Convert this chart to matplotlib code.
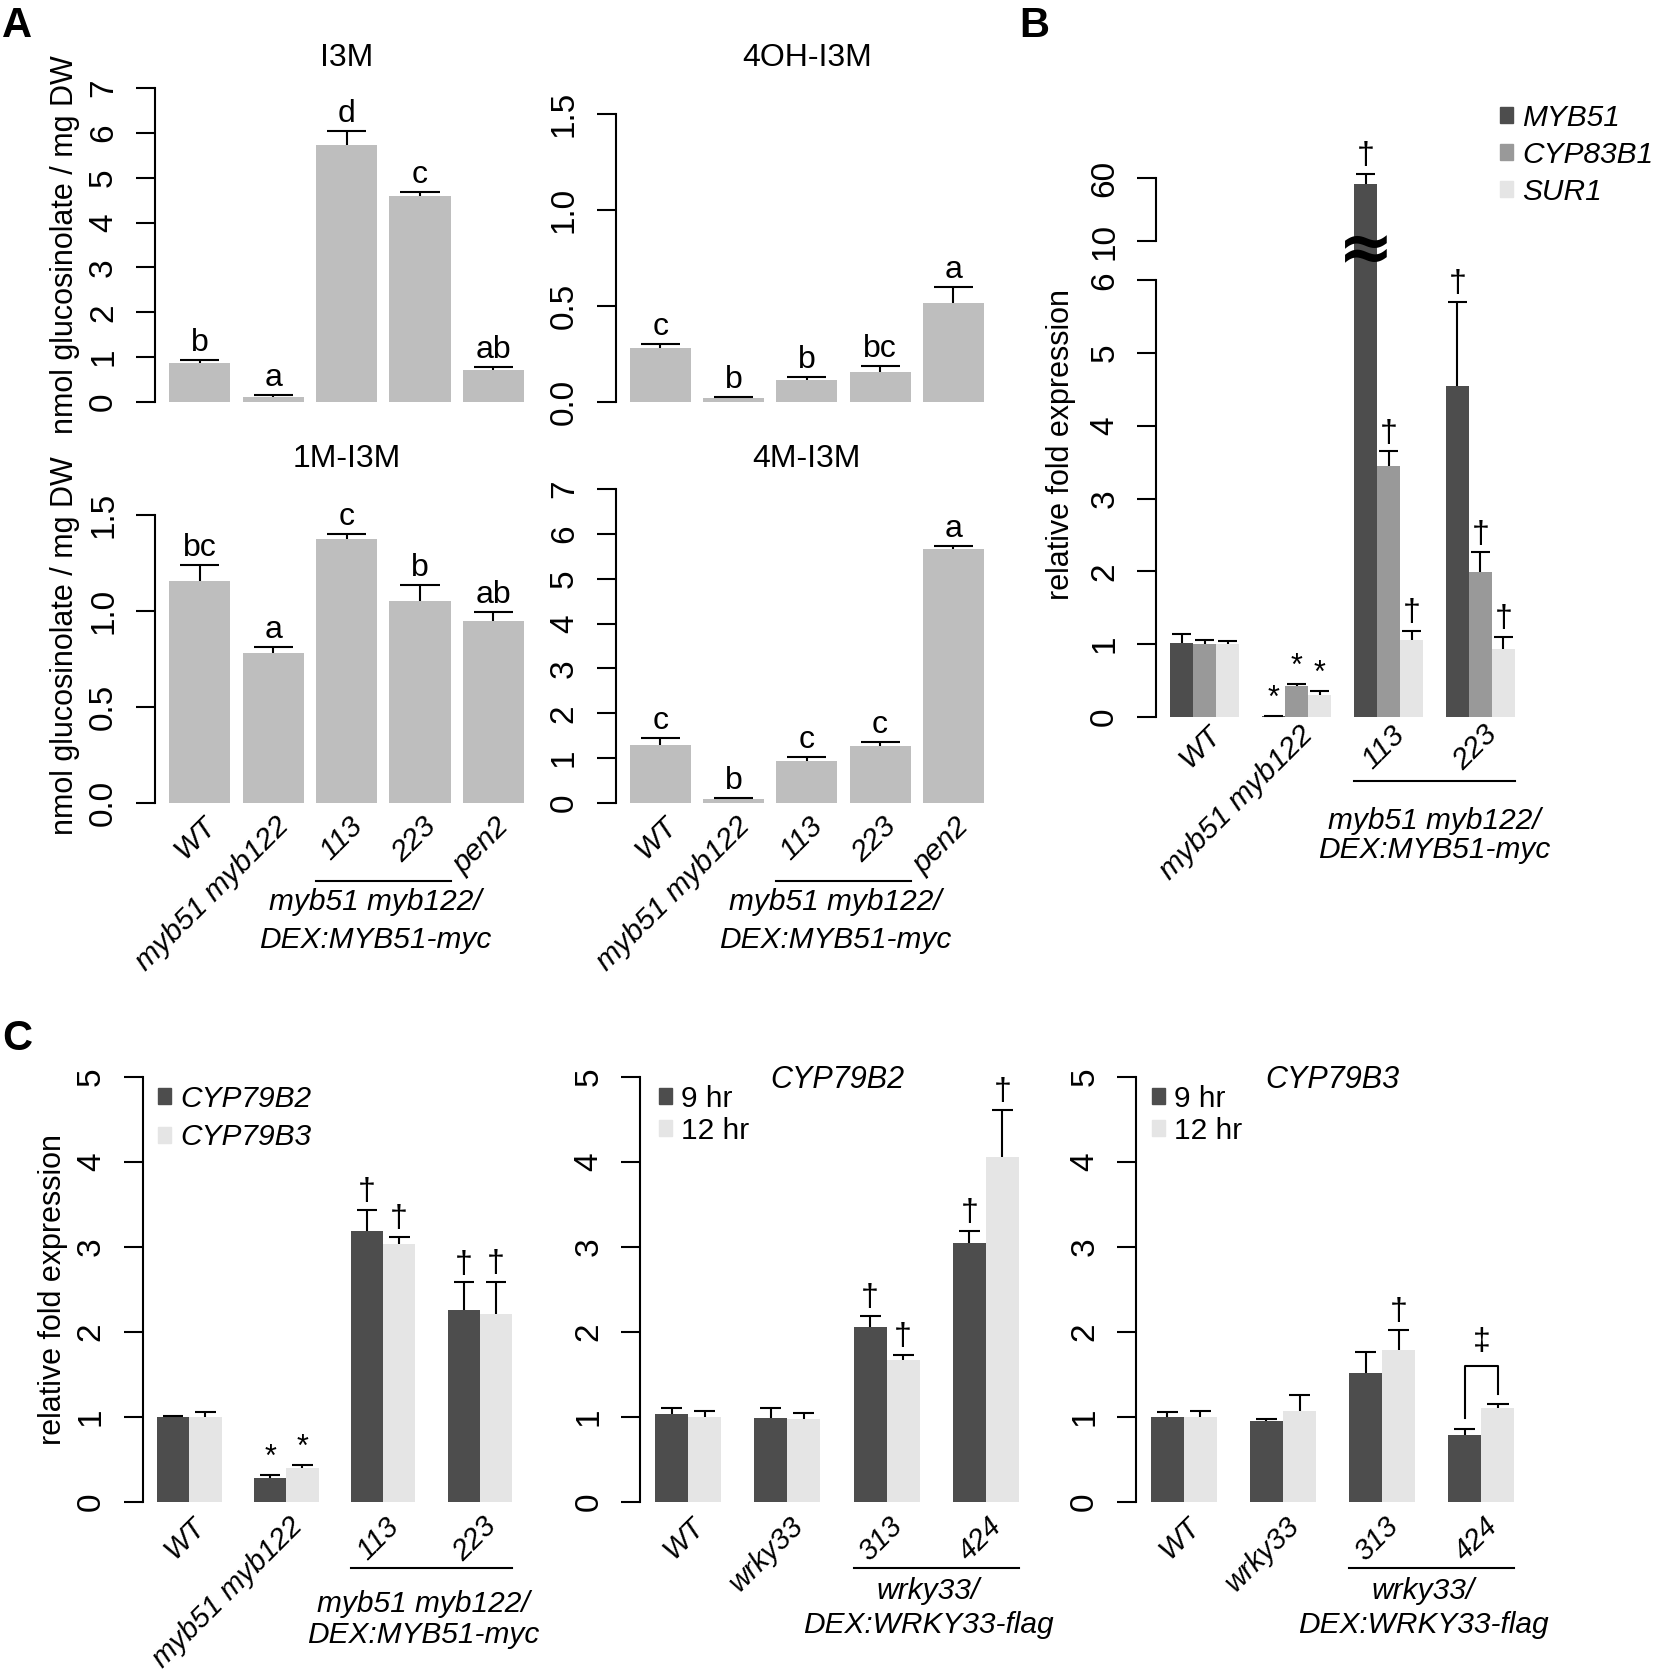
import numpy as np
import matplotlib
matplotlib.use("Agg")
import matplotlib.pyplot as plt
from matplotlib.patches import Patch

plt.rcParams['font.family'] = ['Liberation Sans', 'DejaVu Sans']
plt.rcParams['font.size'] = 21

# ---------------- data ----------------
# panel A: glucosinolates (mean, se, letters)
a_groups = ['WT', 'myb51 myb122', '113', '223', 'pen2']
i3m = [0.88, 0.11, 5.72, 4.59, 0.71]
i3m_se = [0.06, 0.04, 0.33, 0.10, 0.07]
i3m_sig = ['b', 'a', 'd', 'c', 'ab']
oh = [0.284, 0.019, 0.117, 0.157, 0.515]
oh_se = [0.016, 0.007, 0.013, 0.029, 0.082]
oh_sig = ['c', 'b', 'b', 'bc', 'a']
m1 = [1.154, 0.783, 1.375, 1.050, 0.949]
m1_se = [0.085, 0.031, 0.028, 0.083, 0.044]
m1_sig = ['bc', 'a', 'c', 'b', 'ab']
m4 = [1.30, 0.097, 0.945, 1.27, 5.67]
m4_se = [0.14, 0.023, 0.085, 0.10, 0.06]
m4_sig = ['c', 'b', 'c', 'c', 'a']

# panel B: expression, MYB51 / CYP83B1 / SUR1
b_groups = ['WT', 'myb51 myb122', '113', '223']
b_genes = ['MYB51', 'CYP83B1', 'SUR1']
myb51 = [1.02, 0.01, 55.2, 4.55]
myb51_se = [0.12, 0.01, 8.0, 1.15]
cyp83b1 = [1.0, 0.42, 3.45, 1.99]
cyp83b1_se = [0.06, 0.03, 0.20, 0.27]
sur1 = [1.0, 0.30, 1.06, 0.94]
sur1_se = [0.04, 0.06, 0.12, 0.16]
b_marks = [['', '*', '†', '†'], ['', '*', '†', '†'], ['', '*', '†', '†']]

# panel C, left: CYP79B2 / CYP79B3 in myb lines
c1_groups = ['WT', 'myb51 myb122', '113', '223']
c1_b2 = [0.993, 0.28, 3.18, 2.26]
c1_b2_se = [0.012, 0.03, 0.25, 0.32]
c1_b3 = [1.0, 0.40, 3.03, 2.21]
c1_b3_se = [0.056, 0.03, 0.09, 0.38]
c1_marks = [['', '*', '†', '†'], ['', '*', '†', '†']]

# panel C, middle / right: wrky33 lines, 9 hr / 12 hr
c_groups = ['WT', 'wrky33', '313', '424']
c2_9 = [1.027, 0.984, 2.06, 3.04]
c2_9_se = [0.08, 0.114, 0.13, 0.15]
c2_12 = [1.0, 0.969, 1.67, 4.055]
c2_12_se = [0.07, 0.078, 0.055, 0.555]
c2_marks = [['', '', '†', '†'], ['', '', '†', '†']]
c3_9 = [0.996, 0.949, 1.51, 0.788]
c3_9_se = [0.054, 0.027, 0.247, 0.062]
c3_12 = [1.0, 1.07, 1.79, 1.106]
c3_12_se = [0.063, 0.18, 0.23, 0.04]
c3_marks = [['', '', '', ''], ['', '', '†', '']]
c3_bracket = [0.98, 1.60, 1.27]   # left leg end, top, right leg end (group 424)

dark, mid, light, grey = '#4d4d4d', '#999999', '#e5e5e5', '#bebebe'

# ---------------- layout ----------------
W, H = 1654, 1675
fig = plt.figure(figsize=(W / 100, H / 100), dpi=100)


def box(x0, x1, y0, y1):
    return [x0 / W, 1 - y1 / H, (x1 - x0) / W, (y1 - y0) / H]


def style(ax, xlim, ylim, ticks, labels):
    for s in ['top', 'right', 'bottom']:
        ax.spines[s].set_visible(False)
    ax.spines['left'].set_linewidth(1.5)
    ax.set_xlim(xlim)
    ax.set_ylim(ylim)
    ax.spines['left'].set_bounds(ticks[0], ticks[-1])
    ax.set_xticks([])
    ax.set_yticks(ticks)
    ax.set_yticklabels(labels, rotation=90, va='center')
    ax.tick_params(axis='y', length=13.4, width=1.5, pad=12.5, labelsize=24)


def bars(ax, x, vals, se, color, half):
    vals = np.array(vals)
    tops = vals + np.array(se)
    ax.bar(x, vals, width=1, color=color, edgecolor='none')
    ax.vlines(x, vals, tops, color='k', lw=1.5)
    ax.hlines(tops, x - half, x + half, color='k', lw=1.5)
    return tops


def marks(ax, x, tops, labels, va, dy, size):
    for xi, t, s in zip(x, tops, labels):
        if s:
            ax.annotate(s, (xi, t), xytext=(0, dy), textcoords='offset points',
                        ha='center', va=va, fontsize=size)


def xlabels(ax, x, labels, dy=-4.5, size=21.5):
    for xi, s in zip(x, labels):
        ax.annotate(s, (xi, 0), xycoords=('data', 'axes fraction'),
                    xytext=(8.5, dy), textcoords='offset points',
                    rotation=45, rotation_mode='anchor', ha='right', va='center',
                    style='italic', fontsize=size, annotation_clip=False)


def group(ax, x0, x1, fline, lines, fys, dx=-6):
    ax.plot([x0, x1], [fline, fline], color='k', lw=1.5,
            transform=ax.get_xaxis_transform(), clip_on=False)
    for s, fy in zip(lines, fys):
        ax.annotate(s, ((x0 + x1) / 2, fy), xycoords=('data', 'axes fraction'),
                    xytext=(dx, 0), textcoords='offset points', ha='center',
                    va='center', style='italic', fontsize=21.5, annotation_clip=False)


def legend(ax, handles, x, y, italic, spacing):
    ax.legend(handles=handles, loc='upper left', bbox_to_anchor=(x / W, 1 - y / H),
              bbox_transform=fig.transFigure, frameon=False, handlelength=0.45,
              handleheight=0.45, handletextpad=0.3, labelspacing=spacing,
              borderpad=0, borderaxespad=0,
              prop={'style': 'italic' if italic else 'normal', 'size': 21.5})


# ---------------- panel A ----------------
ax_x = 0.7 + 1.2 * np.arange(len(a_groups))
a_xlim = (-0.032, 6.232)
int_ticks = list(range(8))
half_ticks = [0.0, 0.5, 1.0, 1.5]
a_specs = [
    ('I3M', i3m, i3m_se, i3m_sig, box(155, 538.2, 75.4, 414.6), (-0.28, 7.28), int_ticks, [str(t) for t in int_ticks], False),
    ('4OH-I3M', oh, oh_se, oh_sig, box(615.8, 998, 75.4, 414.6), (-0.0654, 1.701), half_ticks, ['%.1f' % t for t in half_ticks], False),
    ('1M-I3M', m1, m1_se, m1_sig, box(155, 538.2, 476.4, 815.6), (-0.0654, 1.701), half_ticks, ['%.1f' % t for t in half_ticks], True),
    ('4M-I3M', m4, m4_se, m4_sig, box(615.8, 998, 476.4, 815.6), (-0.28, 7.28), int_ticks, [str(t) for t in int_ticks], True),
]
for k, (title, vals, se, sig, rect, ylim, ticks, tl, bottom) in enumerate(a_specs):
    ax = fig.add_axes(rect)
    style(ax, a_xlim, ylim, ticks, tl)
    tops = bars(ax, ax_x, vals, se, grey, 0.32)
    marks(ax, ax_x, tops, sig, 'baseline', 6.5, 23)
    ax.set_title(title, pad=6.5, fontsize=23)
    if k % 2 == 0:
        ax.text(-0.236, 0.5, 'nmol glucosinolate / mg DW', rotation=90, ha='center',
                va='center', transform=ax.transAxes, fontsize=22)
    if bottom:
        xlabels(ax, ax_x, a_groups)
        group(ax, ax_x[2] - 0.5, ax_x[3] + 0.5, -0.193,
              ['myb51 myb122/', 'DEX:MYB51-myc'], [-0.255, -0.367])

# ---------------- panel B ----------------
bp_y = [-10, 6, 10, 1000]
bp_t = [-10, 6, 6.536, 6.536 + 990 * 0.01736]
axb = fig.add_axes(box(1156.2, 1528.8, 155, 734.5))
axb.set_yscale('function', functions=(lambda y: np.interp(y, bp_y, bp_t),
                                      lambda t: np.interp(t, bp_t, bp_y)))
b_ticks = [0, 1, 2, 3, 4, 5, 6, 10, 60]
style(axb, (0.4, 16.6), (-0.24, 78.2), b_ticks, [str(t) for t in b_ticks])
axb.spines['left'].set_bounds(0, 6)
axb.plot([0, 0], [10, 60], color='k', lw=1.5, transform=axb.get_yaxis_transform(),
         clip_on=False)
b_centers = 2.5 + 4 * np.arange(len(b_groups))
for i, (vals, se, col) in enumerate([(myb51, myb51_se, dark), (cyp83b1, cyp83b1_se, mid),
                                      (sur1, sur1_se, light)]):
    xb = b_centers - 1 + i
    tops = bars(axb, xb, vals, se, col, 0.43)
    for xi, t, s in zip(xb, tops, b_marks[i]):
        if s == '*':
            axb.annotate(s, (xi, t), xytext=(0, 6.5), textcoords='offset points',
                         ha='center', va='baseline', fontsize=22)
        elif s:
            axb.annotate(s, (xi, t), xytext=(0, 2), textcoords='offset points',
                         ha='center', va='bottom', fontsize=23)
axb.text(b_centers[2] - 1, 9, '≈', ha='center', va='center', fontsize=48,
         fontweight='bold', family='DejaVu Sans')
axb.text(-0.255, 0.5, 'relative fold expression', rotation=90, ha='center', va='center',
         transform=axb.transAxes, fontsize=22)
xlabels(axb, b_centers, b_groups, dy=3)
group(axb, b_centers[2] - 1.5, b_centers[3] + 1.5, -0.0802,
      ['myb51 myb122/', 'DEX:MYB51-myc'], [-0.150, -0.200], dx=0)
legend(axb, [Patch(color=c, label=g) for c, g in zip([dark, mid, light], b_genes)],
       1500, 104, True, 0.3)

# ---------------- panel C ----------------
c_ticks = [0, 1, 2, 3, 4, 5]
c_centers = 2 + 3 * np.arange(4)
c_specs = [
    (box(142.8, 526.5, 1059.7, 1518.7), c1_groups, (c1_b2, c1_b2_se), (c1_b3, c1_b3_se), c1_marks,
     ['CYP79B2', 'CYP79B3'], True, None, ['myb51 myb122/', 'DEX:MYB51-myc'], [-0.186, -0.253], 158, 1085, 0.35),
    (box(640.4, 1033.6, 1059.7, 1518.7), c_groups, (c2_9, c2_9_se), (c2_12, c2_12_se), c2_marks,
     ['9 hr', '12 hr'], False, 'CYP79B2', ['wrky33/', 'DEX:WRKY33-flag'], [-0.1586, -0.2316], 659, 1085, 0.12),
    (box(1136.2, 1529, 1059.7, 1518.7), c_groups, (c3_9, c3_9_se), (c3_12, c3_12_se), c3_marks,
     ['9 hr', '12 hr'], False, 'CYP79B3', ['wrky33/', 'DEX:WRKY33-flag'], [-0.1586, -0.2316], 1152, 1085, 0.12),
]
for k, (rect, groups, s1, s2, mk, leg, leg_it, title, glines, gys, lx, ly, lsp) in enumerate(c_specs):
    ax = fig.add_axes(rect)
    style(ax, (0.56, 12.44), (-0.2, 5.2), c_ticks, [str(t) for t in c_ticks])
    for i, ((vals, se), col) in enumerate(zip([s1, s2], [dark, light])):
        xb = c_centers - 0.5 + i
        tops = bars(ax, xb, vals, se, col, 0.32)
        for xi, t, s in zip(xb, tops, mk[i]):
            if s == '*':
                ax.annotate(s, (xi, t), xytext=(0, 6.5), textcoords='offset points',
                            ha='center', va='baseline', fontsize=22)
            elif s:
                ax.annotate(s, (xi, t), xytext=(0, 2), textcoords='offset points',
                            ha='center', va='bottom', fontsize=23)
    if title:
        ax.text(6.5, 4.87, title, ha='center', va='baseline', style='italic', fontsize=22)
    if k == 0:
        ax.text(-0.234, 0.5, 'relative fold expression', rotation=90, ha='center',
                va='center', transform=ax.transAxes, fontsize=22)
    if k == 2:
        xl, xr = c_centers[3] - 0.5, c_centers[3] + 0.5
        lo, top, ro = c3_bracket
        ax.plot([xl, xl, xr, xr], [lo, top, top, ro], color='k', lw=1.5)
        ax.annotate('‡', ((xl + xr) / 2, top), xytext=(0, 6), textcoords='offset points',
                    ha='center', va='bottom', fontsize=23)
    xlabels(ax, c_centers, groups, dy=-2.5, size=21)
    group(ax, c_centers[2] - 1, c_centers[3] + 1, -0.108, glines, gys)
    legend(ax, [Patch(color=c, label=l) for c, l in zip([dark, light], leg)],
           lx, ly, leg_it, lsp)

for lab, x, y in [('A', 2, 37), ('B', 1019, 37), ('C', 2, 1050)]:
    fig.text(x / W, 1 - y / H, lab, fontsize=30, fontweight='bold', va='baseline')

fig.savefig('out.png', dpi=100)
